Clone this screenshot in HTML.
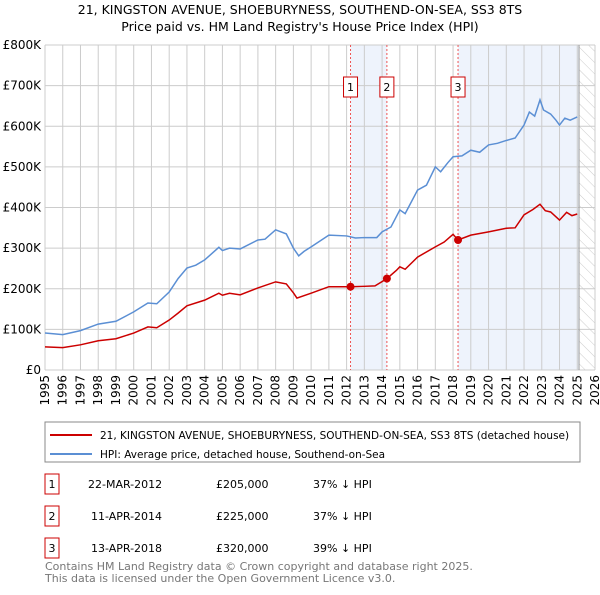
<!DOCTYPE html>
<html><head><meta charset="utf-8"><style>
body{margin:0;background:#fff;font-family:"Liberation Sans","DejaVu Sans",sans-serif;}
svg text{font-family:"DejaVu Sans","Liberation Sans",sans-serif;}
</style></head><body>
<svg id="c" width="600" height="590" xmlns="http://www.w3.org/2000/svg">
<defs><pattern id="hatch" width="8" height="8" patternUnits="userSpaceOnUse" patternTransform="rotate(-45)"><line x1="0" y1="0" x2="0" y2="8" stroke="#ccc" stroke-width="1"/></pattern></defs>
<text x="300" y="14" text-anchor="middle" font-size="12.5">21, KINGSTON AVENUE, SHOEBURYNESS, SOUTHEND-ON-SEA, SS3 8TS</text>
<text x="300" y="31" text-anchor="middle" font-size="12.5">Price paid vs. HM Land Registry's House Price Index (HPI)</text>
<g id="plot"></g>
<rect x="45" y="422" width="535" height="40" fill="#fff" stroke="#888"/>
<line x1="50" y1="435" x2="92" y2="435" stroke="#cc0000" stroke-width="2"/>
<text x="100" y="439" font-size="10.5">21, KINGSTON AVENUE, SHOEBURYNESS, SOUTHEND-ON-SEA, SS3 8TS (detached house)</text>
<line x1="50" y1="454" x2="92" y2="454" stroke="#5b8fd4" stroke-width="2"/>
<text x="100" y="458" font-size="10.5">HPI: Average price, detached house, Southend-on-Sea</text>
<g font-size="11">
<rect x="45" y="474" width="14" height="20" fill="#fff" stroke="#cc0000"/><text x="52" y="488" text-anchor="middle">1</text>
<text x="88" y="488">22-MAR-2012</text><text x="216" y="488">£205,000</text><text x="313" y="488">37% ↓ HPI</text>
<rect x="45" y="506" width="14" height="20" fill="#fff" stroke="#cc0000"/><text x="52" y="520" text-anchor="middle">2</text>
<text x="91" y="520">11-APR-2014</text><text x="216" y="520">£225,000</text><text x="313" y="520">37% ↓ HPI</text>
<rect x="45" y="538" width="14" height="20" fill="#fff" stroke="#cc0000"/><text x="52" y="552" text-anchor="middle">3</text>
<text x="91" y="552">13-APR-2018</text><text x="216" y="552">£320,000</text><text x="313" y="552">39% ↓ HPI</text>
</g>
<text x="45" y="570" font-size="11" fill="#777">Contains HM Land Registry data © Crown copyright and database right 2025.</text>
<text x="45" y="582" font-size="11" fill="#777">This data is licensed under the Open Government Licence v3.0.</text>
</svg>
<script>
const hpiT=[1995,1996,1997,1998,1999,2000,2000.8,2001.3,2002,2002.5,2003,2003.5,2004,2004.8,2005,2005.4,2006,2007,2007.4,2008,2008.6,2009,2009.3,2009.6,2010,2011,2012,2012.5,2013,2013.7,2014,2014.5,2015,2015.3,2016,2016.5,2017,2017.3,2017.7,2018,2018.5,2019,2019.5,2020,2020.5,2021,2021.5,2022,2022.3,2022.6,2022.9,2023.1,2023.5,2023.8,2024,2024.3,2024.6,2025];
const hpiV=[91,87,97,113,120,143,165,163,192,225,251,258,271,302,294,300,298,320,322,345,335,300,281,292,303,332,330,325,326,326,340,352,394,385,443,455,500,488,510,525,527,541,536,554,558,565,571,603,635,625,665,640,630,615,603,620,615,623];
const ppT=[1995,1996,1997,1998,1999,2000,2000.8,2001.3,2002,2002.5,2003,2004,2004.8,2005,2005.4,2006,2007,2008,2008.6,2009,2009.2,2010,2011,2012.22,2013,2013.6,2014.27,2014.8,2015,2015.3,2016,2017,2017.5,2018,2018.28,2019,2020,2021,2021.5,2022,2022.5,2022.9,2023.2,2023.5,2024,2024.4,2024.7,2025];
const ppV=[57,55,62,72,77,91,106,104,123,140,158,172,189,184,189,185,202,217,212,190,177,189,205,205,206,207,225,245,254,248,278,303,315,334,320,332,340,349,350,382,395,408,392,389,369,388,380,384];
const saleT=[2012.22,2014.27,2018.28];
const saleV=[205,225,320];
const saleLbl=["1","2","3"];
const yTicks=[0,100,200,300,400,500,600,700,800];
const yLbl=["£0","£100K","£200K","£300K","£400K","£500K","£600K","£700K","£800K"];
const xTicks=[];for(let y=1995;y<=2026;y++)xTicks.push(y);
const X0=45,X1=595,Y0=370,Y1=45;
const xs=t=>X0+(t-1995)/(2026-1995)*(X1-X0);
const ys=v=>Y0-v/800*(Y0-Y1);
const g=document.getElementById('plot');const NS='http://www.w3.org/2000/svg';
function mk(tag,a,p){const e=document.createElementNS(NS,tag);for(const k in a)e.setAttribute(k,a[k]);(p||g).appendChild(e);return e;}
let e;
e=mk('rect',{x:xs(saleT[0]),y:Y1,width:xs(saleT[1])-xs(saleT[0]),height:Y0-Y1,fill:'#eef3fc'});


e=mk('rect',{x:xs(saleT[2]),y:Y1,width:xs(2025.1)-xs(saleT[2]),height:Y0-Y1,fill:'#eef3fc'});


e=mk('rect',{x:xs(2025.1),y:Y1,width:X1-xs(2025.1),height:Y0-Y1,fill:'url(#hatch)'});


yTicks.forEach((v,i)=>{
 e=mk('line',{x1:X0,x2:X1,y1:ys(v),y2:ys(v),stroke:'#ccc'});
 
 
 e=mk('text',{x:X0-4,y:ys(v)+4,'text-anchor':'end','font-size':'12'});e.textContent=yLbl[i];
 
 
});
xTicks.forEach(t=>{
 e=mk('line',{x1:xs(t),x2:xs(t),y1:Y1,y2:Y0,stroke:'#ccc'});
 
 
 e=mk('text',{x:0,y:0,'text-anchor':'end','font-size':'12',transform:`translate(${xs(t)+4},375) rotate(-90)`});e.textContent=t;
 
 
});
e=mk('line',{x1:xs(2025.1),x2:xs(2025.1),y1:Y1,y2:Y0,stroke:'#999'});


saleT.forEach((t,i)=>{
 e=mk('line',{x1:xs(t),x2:xs(t),y1:Y1,y2:Y0,stroke:'#e55','stroke-dasharray':'2,2'});
 
 
 e=mk('rect',{x:xs(t)-7,y:77,width:14,height:20,fill:'#fff',stroke:'#cc0000'});
 
 
 e=mk('text',{x:xs(t),y:91,'text-anchor':'middle','font-size':'11'});e.textContent=saleLbl[i];
 
 
});
e=mk('polyline',{points:hpiT.map((t,i)=>xs(t)+','+ys(hpiV[i])).join(' '),fill:'none',stroke:'#5b8fd4','stroke-width':1.5});


e=mk('polyline',{points:ppT.map((t,i)=>xs(t)+','+ys(ppV[i])).join(' '),fill:'none',stroke:'#cc0000','stroke-width':1.5});


saleT.forEach((t,i)=>{
 e=mk('circle',{cx:xs(t),cy:ys(saleV[i]),r:4,fill:'#cc0000'});
 
 
});
</script>
</body></html>
